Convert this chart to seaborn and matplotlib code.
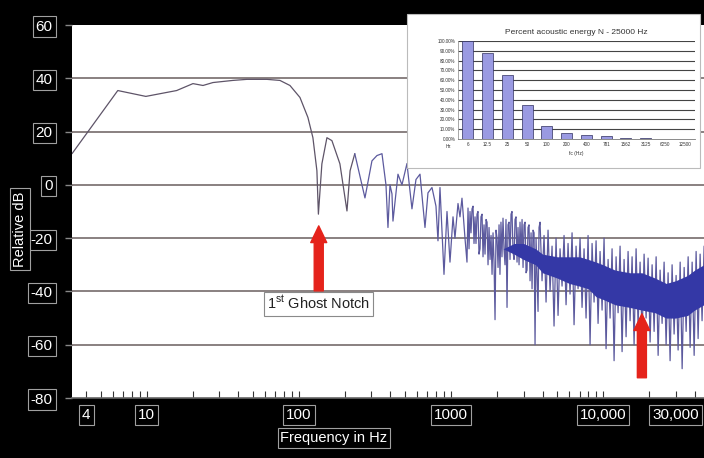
import numpy as np
import pandas as pd
import matplotlib
matplotlib.use("Agg")
import matplotlib.pyplot as plt
import seaborn as sns
from matplotlib import font_manager
from matplotlib.ticker import LogLocator, NullFormatter
from matplotlib.patches import Rectangle

# ---- data ----
# low frequency part of the spectrum (smooth curve, Hz / dB)
smooth_f = [3.22, 6.44, 9.85, 15.7, 20.1, 23.4, 27.2, 36.8, 45.5, 61.6, 75, 87.3, 101.6,
            114.6, 123.6, 131.3, 134.3, 141.6, 152.8, 164.8, 186, 207, 217, 233]
smooth_db = [11.7, 35.4, 33.2, 35.4, 38.0, 37.3, 38.4, 39.2, 39.6, 39.6, 39.2, 37.3, 32.8,
             25.3, 17.7, 5.3, -11.0, 7.9, 17.7, 16.6, 7.9, -9.8, 5.3, 11.7]

# high frequency part (peaks and dips of the noisy spectrum), 233 Hz - 1.3 kHz
lobes_f = [233, 271.8, 302.1, 326.0, 351.7, 373.6, 385.1, 397.0, 409.2, 415.4, 448.1, 476.0,
           513.4, 553.8, 588.4, 625.4, 674.5, 705.8, 749.9, 796.6, 821.2, 846.5, 899.4, 941.3,
           984.9, 1031, 1062, 1112, 1146, 1181, 1236, 1274]
lobes_db = [11.7, -4.9, 9.0, 11.0, 11.7, 0.0, -16.0, 0.0, -3.4, -13.6, 4.0, 0.0,
            8.0, -9.0, 2.0, 4.0, -16.0, -3.0, -1.0, -8.0, -21.0, -1.0, -33.6, -10.0,
            -29.0, -12.0, -20.0, -7.0, -12.0, -5.0, -20.0, -29.0]

# 1.3 kHz - 3.9 kHz
mid_f = [1294, 1314, 1334, 1354, 1375, 1396, 1417, 1439, 1460, 1483, 1505, 1528, 1552, 1575,
         1600, 1624, 1649, 1674, 1700, 1726, 1752, 1779, 1806, 1834, 1862, 1890, 1919, 1948,
         1978, 2008, 2039, 2070, 2099, 2131, 2164, 2198, 2231, 2266, 2300, 2336, 2371, 2408,
         2445, 2482, 2519, 2558, 2597, 2637, 2677, 2718, 2759, 2802, 2844, 2888, 2933, 2977,
         3023, 3069, 3116, 3162, 3211, 3260, 3310, 3361, 3412, 3464, 3517, 3570, 3625, 3680,
         3736, 3793, 3851]
mid_db = [-8.7, -24, -10, -18, -9, -8, -22, -12, -22, -11, -10, -26, -24, -12,
          -11, -27, -15, -26, -13, -14, -30, -16, -28, -19, -33.6, -18, -29, -50.6,
          -17, -20, -31, -15, -33.6, -14, -27, -12.5, -24, -30, -13, -46, -15, -14,
          -28, -11, -10, -25, -28, -13, -12, -29, -16, -30, -14, -27, -13, -31,
          -15, -14, -33, -32, -16, -15, -36, -18, -39, -17, -18, -60, -20, -34,
          -47.5, -16, -14]

# 4 kHz - 46 kHz (dip, peak, dip, peak ...)
high_f = [3969, 4092, 4218, 4347, 4481, 4619, 4760, 4907, 5058, 5213, 5374, 5539, 5710, 5885,
          6066, 6253, 6445, 6644, 6848, 7058, 7275, 7499, 7730, 7968, 8213, 8466, 8726, 8995,
          9271, 9557, 9851, 10152, 10464, 10790, 11120, 11460, 11815, 12178, 12553, 12937,
          13336, 13746, 14169, 14604, 15054, 15517, 15994, 16486, 16994, 17516, 18055, 18611,
          19183, 19774, 20385, 21012, 21658, 22330, 23016, 23714, 24444, 25196, 25970, 26770,
          27590, 28440, 29315, 30220, 31150, 32130, 33110, 34130, 35170, 36260, 37370, 38520,
          39710, 40910, 42170, 43470, 44770, 46180]
high_db = [-36, -19, -44, -17, -40, -23, -53, -20, -49, -24, -38, -19, -45, -22,
           -41, -18, -52.5, -23, -39, -20, -46, -24, -50, -19, -60, -22, -44, -21,
           -52, -25, -47, -20, -61.5, -28, -50, -24, -66, -27, -48, -23,
           -62.6, -28, -57, -25, -51, -27, -60, -24, -53, -29, -58, -26,
           -50, -27.5, -59, -30, -55, -27, -64, -32, -52, -29, -60, -33,
           -66, -30, -56, -34, -62, -29, -69, -31, -55, -27, -61, -29,
           -64, -25, -57.7, -26, -51, -23]

# solid core of the dense high frequency spectrum
band_f = [2200, 2600, 3000, 3600, 4000, 5000, 6000, 7000, 8000, 9000, 10000,
          12000, 15000, 18000, 22000, 26000, 30000, 36000, 40000, 46000]
band_hi = [-24, -22, -22, -24, -26, -27, -27, -27, -28, -29, -30,
           -32, -33, -33, -35, -37, -36, -34, -32, -30]
band_lo = [-24, -26, -28, -30, -33, -35, -37, -38, -39, -42, -43,
           -45, -46, -47, -48, -50, -50, -49, -47, -45]

arrow_f = [135, 18000]
arrow_tip_db = [-15.4, -48.4]
arrow_base_db = [-39.8, -72.4]

xtick_vals = [4, 10, 100, 1000, 10000, 30000]
xtick_labels = ["4", "10", "100", "1000", "10,000", "30,000"]
ytick_vals = [-80, -60, -40, -20, 0, 20, 40, 60]

# inset: percent acoustic energy per band
bands = ["6", "12.5", "25", "50", "100", "200", "400", "781", "1562", "3125", "6250", "12500"]
energy_pct = [100, 87.8, 65, 34.8, 13.5, 6.0, 3.7, 2.7, 1.4, 1.4, 0, 0]

# ---- style ----
sns.set_style("white")
avail = {f.name for f in font_manager.fontManager.ttflist}
narrow = "Liberation Sans Narrow" if "Liberation Sans Narrow" in avail else "Liberation Sans"
plt.rcParams["font.family"] = [narrow, "DejaVu Sans"]
plt.rcParams["mathtext.fontset"] = "custom"
plt.rcParams["mathtext.rm"] = narrow
LBL = 11

W, H = 704, 458
fig = plt.figure(figsize=(W / 100, H / 100), dpi=100, facecolor="black")
ax = fig.add_axes([72 / W, 1 - 398 / H, 632 / W, 373 / H])
ax.set_facecolor("white")
ax.set_xscale("log")

df = pd.concat([
    pd.DataFrame({"freq": smooth_f, "db": smooth_db, "part": "low"}),
    pd.DataFrame({"freq": lobes_f + mid_f + high_f, "db": lobes_db + mid_db + high_db, "part": "high"}),
])
sns.lineplot(data=df, x="freq", y="db", hue="part", estimator=None, sort=False,
             palette={"low": "#5e5468", "high": "#5c5a9e"}, lw=0.9, legend=False,
             ax=ax, zorder=3)
# dense core drawn over the spikes, so only the spike tips stay visible
ax.fill_between(band_f, band_lo, band_hi, color="#3438a6", lw=0, zorder=4)

for v in ytick_vals[1:-1]:
    ax.axhline(v, color="#6a5e5e", lw=1.1, zorder=1)

ax.set_xlim(3.22, 46100)
ax.set_ylim(-80, 60)
ax.set_xlabel("")
ax.set_ylabel("")
for s in ["top", "right", "left"]:
    ax.spines[s].set_visible(False)
ax.spines["bottom"].set_color("#666666")
ax.spines["bottom"].set_linewidth(1.2)

box = dict(boxstyle="square,pad=0.2", fc="black", ec="#a0a0a0", lw=0.8)

ax.set_yticks(ytick_vals)
ylabs = ax.set_yticklabels([str(v) for v in ytick_vals])
ax.tick_params(axis="y", direction="out", length=5, width=1, color="#888888",
               labelcolor="white", labelsize=LBL, pad=9, left=True)
for t in ylabs:
    t.set_bbox(box)

ax.set_xticks(xtick_vals)
xlabs = ax.set_xticklabels(xtick_labels)
ax.xaxis.set_minor_locator(LogLocator(base=10, subs=np.arange(2, 10)))
ax.xaxis.set_minor_formatter(NullFormatter())
ax.tick_params(axis="x", which="both", direction="in", length=5, width=0.8,
               color="#333333", bottom=True)
ax.tick_params(axis="x", which="major", labelcolor="white", labelsize=LBL, pad=7)
for t in xlabs:
    t.set_bbox(box)

fig.text(334 / W, 1 - 438 / H, "Frequency in Hz", color="white", fontsize=10.5,
         ha="center", va="center", bbox=box)
fig.text(20 / W, 1 - 229 / H, "Relative dB", color="white", fontsize=10.5,
         ha="center", va="center", rotation=90, bbox=box)

# red arrows
for f, tip, base in zip(arrow_f, arrow_tip_db, arrow_base_db):
    ax.annotate("", xy=(f, tip), xytext=(f, base),
                arrowprops=dict(arrowstyle="simple,head_length=12,head_width=11.5,tail_width=6.5",
                                mutation_scale=1, color="#e5231b", shrinkA=0, shrinkB=0),
                zorder=5)

ax.text(135, -44.6, r"1$^{\mathrm{st}}$ Ghost Notch", ha="center", va="center",
        fontsize=10.5, color="#222222", zorder=6,
        bbox=dict(boxstyle="square,pad=0.2", fc="white", ec="#8a8a8a", lw=0.8))

# inset
fig.add_artist(Rectangle((407 / W, 1 - 168 / H), 293 / W, 154 / H, transform=fig.transFigure,
                         fc="white", ec="#bbbbbb", lw=0.8, zorder=1))
ins = fig.add_axes([458 / W, 1 - 139 / H, 237 / W, 98 / H], zorder=2)
ins.set_facecolor("white")
sns.barplot(x=bands, y=energy_pct, color="#9a9ae2", edgecolor="#2e2e5e", linewidth=0.5,
            width=0.55, saturation=1, ax=ins, zorder=3)
ins.set_ylim(0, 100)
ins.set_xlim(-0.5, len(bands) - 0.5)
ins.set_yticks(range(0, 101, 10))
ins.set_yticklabels([f"{v:.2f}%" for v in range(0, 101, 10)])
for v in range(10, 101, 10):
    ins.axhline(v, color="#444444", lw=0.8, zorder=1)
ins.tick_params(axis="both", labelsize=3.3, labelcolor="#333333", length=0, pad=2)
for s in ["top", "right"]:
    ins.spines[s].set_visible(False)
ins.spines["left"].set_color("#999999")
ins.spines["left"].set_linewidth(0.6)
ins.spines["bottom"].set_color("#777777")
ins.spines["bottom"].set_linewidth(0.6)
ins.set_title("Percent acoustic energy N - 25000 Hz", fontsize=6, color="#333333", pad=5)
ins.set_xlabel("fc (Hz)", fontsize=3.5, color="#333333", labelpad=3)
ins.set_ylabel("")
fig.text(448 / W, 1 - 146 / H, "Hz", fontsize=3.3, color="#333333", ha="center", va="center")

fig.savefig("out.png", dpi=100, facecolor="black")
